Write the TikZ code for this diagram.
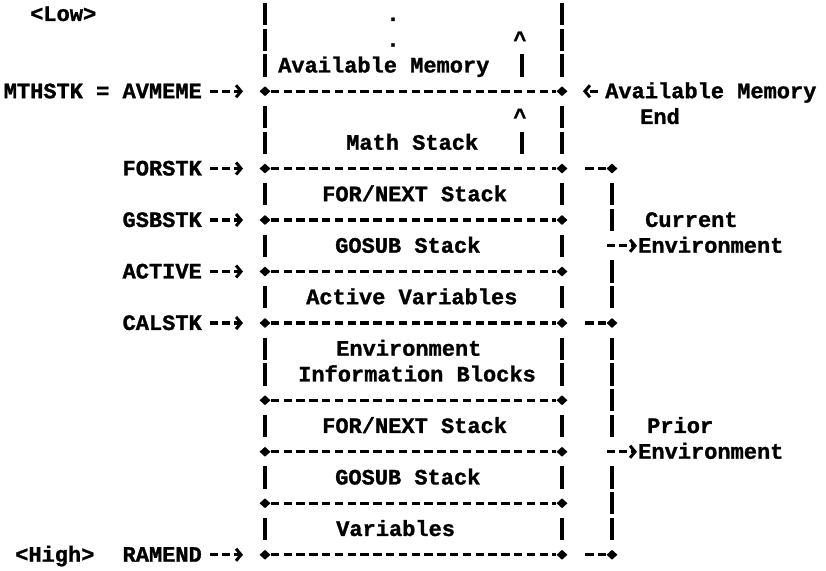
\documentclass[tikz,border=0pt]{standalone}
\usepackage{fontspec}
\setmonofont{Liberation Mono}[BoldFeatures={FakeBold=1.2}]
\usepackage{tikz}
\usetikzlibrary{shapes.geometric,arrows.meta}
\tikzset{
  txt/.style={font=\ttfamily\bfseries\fontsize{22}{24}\selectfont, inner sep=0pt},
  lbl/.style={txt, anchor=base east},
  cell/.style={txt, anchor=base west},
  bar/.style={line width=3.3pt},
  rule/.style={line width=3.3pt, dash pattern=on 8.5pt off 4.3pt},
  joint/.style={diamond, fill, inner sep=0pt, minimum width=11pt, minimum height=10pt},
  ptr/.style={line width=3.3pt, dash pattern=on 8pt off 4pt,
    -{Straight Barb[length=5pt,width=12pt,line width=3pt]}},
}

\begin{document}
\begin{tikzpicture}[x=1pt, y=-25.75pt]
        \useasboundingbox (0,-0.544) rectangle (826,21.592);
        % dividers of the memory map
        \foreach \r in {3,6,8,10,12,15,17,19,21}{
            \node (L\r) [joint] at (265,\r) {};
            \node (R\r) [joint] at (562,\r) {};
            \draw[rule] (L\r) -- (R\r);
        }
        % side walls
        \foreach \r in {0,1,2,4,5,7,9,11,13,14,16,18,20}{
            \draw[bar] (265,\r-0.43) -- (265,\r+0.43);
            \draw[bar] (562,\r-0.43) -- (562,\r+0.43);
        }
        \foreach \r in {2,5}
            \draw[bar] (522,\r-0.43) -- (522,\r+0.43);
        % environment brackets
        \foreach \r in {6,12,21}{
            \node (B\r) [joint] at (612,\r) {};
            \draw[rule] (585,\r) -- (B\r);
        }
        \foreach \r in {7,8,10,11,13,14,15,16,18,19,20}
            \draw[bar] (612,\r-0.43) -- (612,\r+0.43);
        \coordinate (B9) at (607,9);
        \coordinate (B17) at (607,17);

        % contents
        \node (dot1) [txt, anchor=base] at (393,0.27) {.};
        \node (dot2) [txt, anchor=base] at (393,1.27) {.};
        \node (up1) [txt, anchor=base] at (520,1.27) {\textasciicircum};
        \node (up2) [txt, anchor=base] at (520,4.27) {\textasciicircum};
        \node (avail) [cell] at (278,2.27) {Available Memory};
        \node (math) [cell] at (346,5.27) {Math Stack};
        \node (fornext) [cell] at (322,7.27) {FOR/NEXT Stack};
        \node (gosub) [cell] at (335,9.27) {GOSUB Stack};
        \node (actvar) [cell] at (306,11.27) {Active Variables};
        \node (envblk) [cell] at (336,13.27) {Environment};
        \node (infblk) [cell] at (298,14.27) {Information Blocks};
        \node (fornext2) [cell] at (322,16.27) {FOR/NEXT Stack};
        \node (gosub2) [cell] at (335,18.27) {GOSUB Stack};
        \node (vars) [cell] at (336,20.27) {Variables};

        % pointers on the left
        \node (low) [cell] at (30,0.27) {<Low>};
        \node (mthstk) [lbl] at (202,3.27) {MTHSTK = AVMEME};
        \node (forstk) [lbl] at (202,6.27) {FORSTK};
        \node (gsbstk) [lbl] at (202,8.27) {GSBSTK};
        \node (active) [lbl] at (202,10.27) {ACTIVE};
        \node (calstk) [lbl] at (202,12.27) {CALSTK};
        \node (high) [cell] at (15,21.27) {<High>};
        \node (ramend) [lbl] at (202,21.27) {RAMEND};
        \draw[ptr, shorten <=8pt, shorten >=22pt] (mthstk.east |- L3) -- (L3.center);
        \draw[ptr, shorten <=8pt, shorten >=22pt] (forstk.east |- L6) -- (L6.center);
        \draw[ptr, shorten <=8pt, shorten >=22pt] (gsbstk.east |- L8) -- (L8.center);
        \draw[ptr, shorten <=8pt, shorten >=22pt] (active.east |- L10) -- (L10.center);
        \draw[ptr, shorten <=8pt, shorten >=22pt] (calstk.east |- L12) -- (L12.center);
        \draw[ptr, shorten <=8pt, shorten >=22pt] (ramend.east |- L21) -- (L21.center);

        % labels on the right
        \node (avmem) [cell] at (605,3.27) {Available Memory};
        \node (avend) [cell] at (640,4.27) {End};
        \node (cur) [cell] at (645,8.27) {Current};
        \node (curenv) [cell] at (638,9.27) {Environment};
        \node (pri) [cell] at (647,16.27) {Prior};
        \node (prienv) [cell] at (638,17.27) {Environment};
        \draw[ptr, shorten <=7pt, shorten >=21pt] (avmem.west |- R3) -- (R3.center);
        \draw[ptr, shorten >=1pt] (B9) -- (curenv.west |- B9);
        \draw[ptr, shorten >=1pt] (B17) -- (prienv.west |- B17);
    \end{tikzpicture}
\end{document}
